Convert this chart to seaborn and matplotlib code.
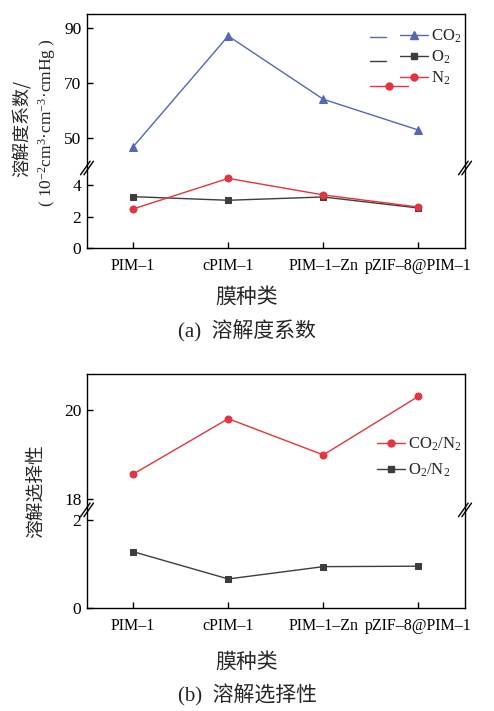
import numpy as np
import pandas as pd
import matplotlib
matplotlib.use("Agg")
import matplotlib.pyplot as plt
from matplotlib.lines import Line2D
import seaborn as sns

# ---------------- data ----------------
membranes = ["PIM–1", "cPIM–1", "PIM–1–Zn", "pZIF–8@PIM–1"]
co2_sol = [46.7, 87.0, 64.0, 52.8]
o2_sol = [3.26, 3.03, 3.24, 2.54]
n2_sol = [2.48, 4.42, 3.37, 2.60]
co2n2_sel = [18.56, 19.80, 18.99, 20.30]
o2n2_sel = [1.28, 0.66, 0.94, 0.95]

top_ticks = [0, 2, 4, 50, 70, 90]
bot_ticks = [0, 2, 18, 20]

sns.set_theme(style="ticks")
plt.rcParams["font.family"] = ["Liberation Serif", "Noto Sans CJK SC", "DejaVu Sans"]
plt.rcParams["mathtext.fontset"] = "custom"
plt.rcParams["mathtext.rm"] = "Liberation Serif"
plt.rcParams["mathtext.it"] = "Liberation Serif:italic"
plt.rcParams["mathtext.default"] = "regular"
plt.rcParams["axes.linewidth"] = 1.0

BLUE = "#5568b4"
RED = "#e3343f"
GRAY = "#3d3d3d"
CJK = ["Noto Sans CJK SC", "Liberation Serif"]
MIX = ["Liberation Serif", "Noto Sans CJK SC"]


def broken_scale(b_low, b_high, ratio):
    def fwd(y):
        y = np.asarray(y, dtype=float)
        return np.where(y <= b_low, y, b_low + np.maximum(y - b_high, 0) * ratio)

    def inv(t):
        t = np.asarray(t, dtype=float)
        return np.where(t <= b_low, t, b_high + (t - b_low) / ratio)

    return fwd, inv


def draw_series(ax, values, color, marker, ms):
    df = pd.DataFrame({"membrane": membranes, "value": values})
    sns.pointplot(data=df, x="membrane", y="value", order=membranes, color=color,
                  marker=marker, markersize=ms, linewidth=1.0, errorbar=None, ax=ax)


def style_axes(ax, ticks, ylim):
    ax.set_xlim(-0.485, 3.49)
    ax.set_ylim(*ylim)
    ax.set_yticks(ticks)
    ax.set_yticklabels([str(t) for t in ticks])
    ax.set_xlabel("")
    ax.set_ylabel("")
    for s in ax.spines.values():
        s.set_visible(True)
        s.set_color("black")
        s.set_linewidth(1.0)
    ax.tick_params(axis="both", direction="in", length=4.5, width=1.0, colors="black")
    ax.tick_params(axis="y", labelsize=12.5, pad=4)
    ax.tick_params(axis="x", labelsize=11.5, pad=7)
    ax.grid(False)


def break_marks(ax, ybreak, fig):
    fig.canvas.draw()
    disp = ax.transData.transform([(0, ybreak)])
    yfrac = ax.transAxes.inverted().transform(disp)[0, 1]
    bbox = ax.get_window_extent()
    dx = 4.8 / bbox.width
    dy = 6.8 / bbox.height
    sep = 3.4 / bbox.width
    for xc in (0.0, 1.0):
        for off in (-sep / 2, sep / 2):
            ax.plot([xc + off - dx, xc + off + dx], [yfrac - dy, yfrac + dy],
                    transform=ax.transAxes, color="black", lw=1.0, clip_on=False)


fig = plt.figure(figsize=(4.94, 7.11), dpi=100)
W, H = 494, 711
ax1 = fig.add_axes([87 / W, 1 - 248 / H, 378 / W, 234 / H])
ax2 = fig.add_axes([87 / W, 1 - 608 / H, 378 / W, 234 / H])

# ---------------- panel (a) ----------------
draw_series(ax1, co2_sol, BLUE, "^", 5.5)
draw_series(ax1, o2_sol, GRAY, "s", 4.5)
draw_series(ax1, n2_sol, RED, "o", 5)
fwd1, inv1 = broken_scale(5.08, 39.0, 2.75 / 15.75)
ax1.set_yscale("function", functions=(fwd1, inv1))
style_axes(ax1, top_ticks, (0, 95))

h1 = [Line2D([], [], color=BLUE, marker="^", ms=5.5, lw=1.0),
      Line2D([], [], color=GRAY, marker="s", ms=4.5, lw=1.0),
      Line2D([], [], color=RED, marker="o", ms=5, lw=1.0)]
ax1.legend(h1, ["CO$_2$", "O$_2$", "N$_2$"], loc="upper left",
           bbox_to_anchor=(0.828, 0.94), frameon=False, fontsize=12,
           handlelength=1.7, handletextpad=0.18, labelspacing=0.2,
           borderpad=0, borderaxespad=0)
# stray legend stubs seen in the original figure
for (x0, x1, yy, c, mk) in [(370, 386, 36.7, BLUE, None), (370, 386, 60.7, GRAY, None),
                            (370, 408, 86, RED, "o")]:
    xa = [(x0 - 87) / 378, (x1 - 87) / 378]
    ya = [(248 - yy) / 234] * 2
    ax1.add_line(Line2D(xa, ya, transform=ax1.transAxes, color=c, lw=1.0))
    if mk:
        ax1.add_line(Line2D([(389 - 87) / 378], [(248 - yy) / 234], transform=ax1.transAxes,
                            color=c, marker=mk, ms=5, lw=0))

# ---------------- panel (b) ----------------
draw_series(ax2, co2n2_sel, RED, "o", 5)
draw_series(ax2, o2n2_sel, GRAY, "s", 4.5)
fwd2, inv2 = broken_scale(2.23, 17.76, 44.7 / 44.0)
ax2.set_yscale("function", functions=(fwd2, inv2))
style_axes(ax2, bot_ticks, (0, 20.8))

h2 = [Line2D([], [], color=RED, marker="o", ms=5, lw=1.0),
      Line2D([], [], color=GRAY, marker="s", ms=4.5, lw=1.0)]
ax2.legend(h2, ["CO$_2$/N$_2$", "O$_2$/N$_2$"], loc="upper left",
           bbox_to_anchor=(0.767, 0.735), frameon=False, fontsize=12,
           handlelength=1.7, handletextpad=0.18, labelspacing=0.5,
           borderpad=0, borderaxespad=0)

break_marks(ax1, 5.08, fig)
break_marks(ax2, 2.23, fig)

# ---------------- texts ----------------
fig.text(22 / W, 1 - 128 / H, "溶解度系数/", rotation=90, ha="center", va="center",
         fontsize=13, family=CJK)
fig.text(47 / W, 1 - 123 / H, "( 10$^{-2}$cm$^{3}$·cm$^{-3}$·cmHg )", rotation=90,
         ha="center", va="center", fontsize=12.5)
fig.text(0.5, 1 - 297 / H, "膜种类", ha="center", va="center", fontsize=15, family=CJK)
fig.text(0.5, 1 - 331 / H, "(a)  溶解度系数", ha="center", va="center", fontsize=15,
         family=MIX)

fig.text(35 / W, 1 - 491 / H, "溶解选择性", rotation=90, ha="center", va="center",
         fontsize=13.5, family=CJK)
fig.text(0.5, 1 - 662 / H, "膜种类", ha="center", va="center", fontsize=15, family=CJK)
fig.text(0.5, 1 - 695 / H, "(b)  溶解选择性", ha="center", va="center", fontsize=15,
         family=MIX)

fig.savefig("out.png", dpi=100, facecolor="white")
